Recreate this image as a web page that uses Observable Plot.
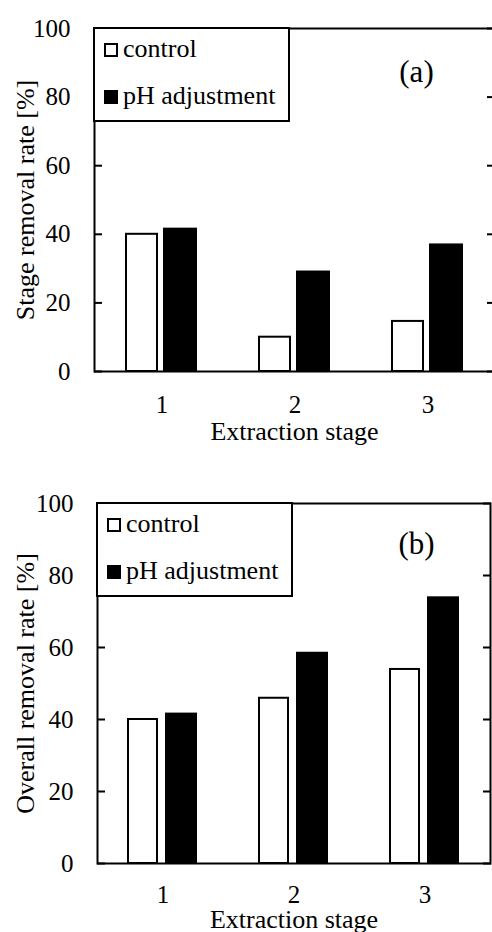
<!DOCTYPE html>
<html>
<head>
<meta charset="utf-8">
<script src="https://cdn.jsdelivr.net/npm/d3@7"></script>
<script src="https://cdn.jsdelivr.net/npm/@observablehq/plot@0.6"></script>
<style>
  html, body { margin: 0; padding: 0; background: #fff; overflow: hidden; }
  .panel { position: relative; width: 492px; overflow: hidden; }
  .panel svg { max-width: none !important; }
  .legend {
    position: absolute; box-sizing: border-box; border: 2px solid #000; background: #fff;
    font-family: "Liberation Serif", "Times New Roman", serif; font-size: 26px; color: #000;
  }
  .legend .sw { position: absolute; width: 14px; height: 14px; box-sizing: border-box; border: 2px solid #000; }
  .legend .lb { position: absolute; line-height: 26px; white-space: nowrap; }
</style>
</head>
<body>
<div id="pa" class="panel" style="height:460px"></div>
<div id="pb" class="panel" style="height:472px"></div>
<script>
// ---- data ----
const stages = [1, 2, 3];
const series = ["control", "pH adjustment"];
const stageControl = [40.0, 10.0, 14.6];
const stagePH = [41.5, 29.0, 36.9];
const overallControl = [40.0, 45.9, 53.9];
const overallPH = [41.5, 58.4, 73.8];
const yTicks = [0, 20, 40, 60, 80, 100];
const yTitles = ["Stage removal rate [%]", "Overall removal rate [%]"];
const xTitle = "Extraction stage";
const panelTags = ["(a)", "(b)"];

const FONT = '"Liberation Serif", "Times New Roman", serif';

function rows(ctrl, ph) {
  return stages.flatMap((s, i) => [
    {stage: s, series: series[0], value: ctrl[i]},
    {stage: s, series: series[1], value: ph[i]}
  ]);
}

function panel(el, data, cfg) {
  const chart = Plot.plot({
    width: cfg.width, height: cfg.height,
    marginLeft: cfg.ml, marginRight: cfg.mr, marginTop: cfg.mt, marginBottom: cfg.mb,
    style: {fontFamily: FONT, fontSize: "25px", color: "#000", background: "#fff", overflow: "visible"},
    x: {type: "band", domain: stages, padding: 0},
    y: {domain: [0, 100]},
    marks: [
      Plot.barY(data.filter(d => d.series === series[0]), {x: "stage", y: "value", fill: "#fff", stroke: "#000", strokeWidth: 2, insetLeft: 31, insetRight: 71}),
      Plot.barY(data.filter(d => d.series === series[1]), {x: "stage", y: "value", fill: "#000", stroke: "#000", strokeWidth: 2, insetLeft: 69, insetRight: 32}),
      Plot.frame({stroke: "#000", strokeWidth: 2}),
      Plot.axisY({ticks: yTicks, tickSize: -8, tickPadding: 32, strokeWidth: 2, fontSize: 25, label: null}),
      Plot.axisY({anchor: "right", ticks: yTicks, tickSize: -8, tickFormat: () => "", strokeWidth: 2, label: null}),
      Plot.axisX({tickSize: 0, tickPadding: cfg.xpad, fontSize: 25, label: null}),
      Plot.text([cfg.ytitle], {text: d => d, frameAnchor: "left", textAnchor: "middle", lineAnchor: "middle", rotate: -90, dx: cfg.ytdx, fontSize: 26}),
      Plot.text([xTitle], {text: d => d, frameAnchor: "bottom", textAnchor: "middle", lineAnchor: "middle", dy: cfg.xtdy, fontSize: 26}),
      Plot.text([cfg.tag], {text: d => d, frameAnchor: "top-right", textAnchor: "middle", lineAnchor: "middle", dx: cfg.tagdx, dy: cfg.tagdy, fontSize: 31})
    ]
  });
  el.appendChild(chart);

  // legend box in the top-left corner of the plot frame
  const lg = document.createElement("div");
  lg.className = "legend";
  lg.style.left = (cfg.ml - 1) + "px";
  lg.style.top = (cfg.mt - 1) + "px";
  lg.style.width = "197px";
  lg.style.height = "95px";
  const fills = ["#fff", "#000"];
  series.forEach((name, i) => {
    const sw = document.createElement("div");
    sw.className = "sw";
    sw.style.left = "9px";
    sw.style.top = (14 + i * 47) + "px";
    sw.style.background = fills[i];
    lg.appendChild(sw);
    const lb = document.createElement("div");
    lb.className = "lb";
    lb.style.left = "28px";
    lb.style.top = (7 + i * 47) + "px";
    lb.textContent = name;
    lg.appendChild(lb);
  });
  el.appendChild(lg);
}

panel(document.getElementById("pa"), rows(stageControl, stagePH), {
  width: 496, height: 460, ml: 94, mr: 2, mt: 28, mb: 89,
  xpad: 24, ytitle: yTitles[0], ytdx: -69, xtdy: 60, tag: panelTags[0], tagdx: -78, tagdy: 44
});
panel(document.getElementById("pb"), rows(overallControl, overallPH), {
  width: 492, height: 472, ml: 97, mr: 2, mt: 43, mb: 69,
  xpad: 22, ytitle: yTitles[1], ytdx: -72, xtdy: 56, tag: panelTags[1], tagdx: -74, tagdy: 41
});
</script>
</body>
</html>
